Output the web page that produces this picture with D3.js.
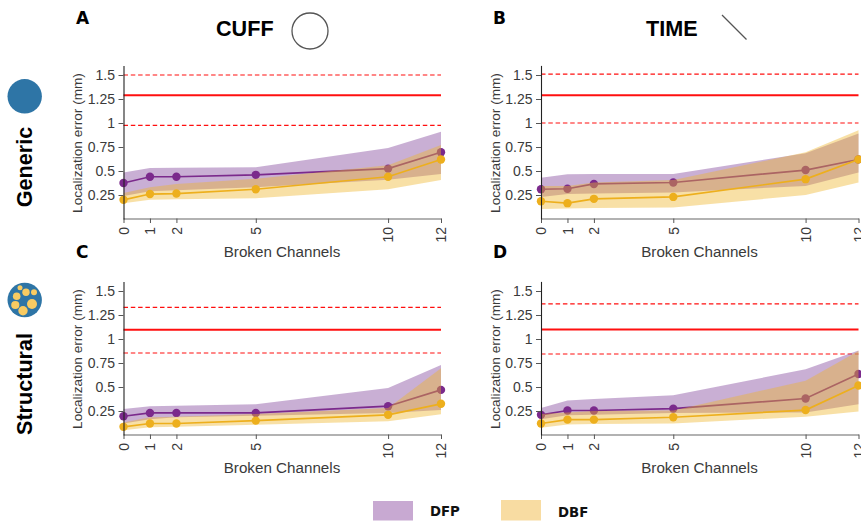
<!DOCTYPE html>
<html><head><meta charset="utf-8">
<script src="https://cdn.jsdelivr.net/npm/d3@7/dist/d3.min.js"></script>
<style>html,body{margin:0;padding:0;background:#fff;overflow:hidden}svg{display:block}</style>
</head><body><svg id="c" width="861" height="521"></svg>
<script>
const brokenChannels = [0, 1, 2, 5, 10, 12];
const yTickValues = [0.25, 0.5, 0.75, 1, 1.25, 1.5];
const yTickLabels = ["0.25", "0.5", "0.75", "1", "1.25", "1.5"];
const xLabel = "Broken Channels";
const yLabel = "Localization error (mm)";
const panelNames = ["A", "B", "C", "D"];

const dfpMeanA = [0.375, 0.44, 0.44, 0.46, 0.525, 0.695];
const dfpLowA  = [0.24, 0.29, 0.30, 0.33, 0.41, 0.47];
const dfpHighA = [0.485, 0.53, 0.535, 0.54, 0.74, 0.91];
const dbfMeanA = [0.20, 0.26, 0.265, 0.31, 0.44, 0.62];
const dbfLowA  = [0.165, 0.20, 0.205, 0.215, 0.31, 0.405];
const dbfHighA = [0.27, 0.33, 0.365, 0.42, 0.56, 0.77];
const refA = [0.975, 1.29, 1.50];

const dfpMeanB = [0.31, 0.315, 0.365, 0.38, 0.51, 0.62];
const dfpLowB  = [0.23, 0.26, 0.265, 0.275, 0.345, 0.485];
const dfpHighB = [0.43, 0.465, 0.47, 0.47, 0.685, 0.89];
const dbfMeanB = [0.185, 0.165, 0.21, 0.23, 0.415, 0.62];
const dbfLowB  = [0.105, 0.11, 0.115, 0.12, 0.25, 0.38];
const dbfHighB = [0.345, 0.345, 0.38, 0.405, 0.695, 0.925];
const refB = [1.0, 1.29, 1.51];

const dfpMeanC = [0.195, 0.23, 0.23, 0.23, 0.30, 0.47];
const dfpLowC  = [0.12, 0.165, 0.185, 0.20, 0.23, 0.26];
const dfpHighC = [0.27, 0.30, 0.305, 0.32, 0.49, 0.73];
const dbfMeanC = [0.085, 0.12, 0.12, 0.15, 0.21, 0.325];
const dbfLowC  = [0.05, 0.08, 0.087, 0.108, 0.143, 0.215];
const dbfHighC = [0.13, 0.185, 0.19, 0.22, 0.28, 0.695];
const refC = [0.854, 1.097, 1.33];

const dfpMeanD = [0.21, 0.255, 0.255, 0.275, 0.38, 0.635];
const dfpLowD  = [0.165, 0.205, 0.21, 0.23, 0.235, 0.32];
const dfpHighD = [0.28, 0.36, 0.375, 0.415, 0.685, 0.88];
const dbfMeanD = [0.12, 0.16, 0.16, 0.185, 0.26, 0.515];
const dbfLowD  = [0.075, 0.11, 0.115, 0.12, 0.19, 0.245];
const dbfHighD = [0.22, 0.235, 0.25, 0.255, 0.565, 0.875];
const refD = [0.844, 1.10, 1.365];

const dfpMean = [dfpMeanA, dfpMeanB, dfpMeanC, dfpMeanD];
const dfpLow = [dfpLowA, dfpLowB, dfpLowC, dfpLowD];
const dfpHigh = [dfpHighA, dfpHighB, dfpHighC, dfpHighD];
const dbfMean = [dbfMeanA, dbfMeanB, dbfMeanC, dbfMeanD];
const dbfLow = [dbfLowA, dbfLowB, dbfLowC, dbfLowD];
const dbfHigh = [dbfHighA, dbfHighB, dbfHighC, dbfHighD];
const refs = [refA, refB, refC, refD];

const sans = "'Liberation Sans', Arial, sans-serif";
const wide = "'DejaVu Sans', sans-serif";
const svg = d3.select("#c");
const lefts = [123.5, 541, 123.5, 541];
const bottoms = [219, 219, 435, 435];
const letterPos = [[76, 24], [493, 24], [76, 258], [493, 258]];
const PLOT_W = 317.5, PLOT_H = 153.6;

panelNames.forEach((name, i) => {
  const L = lefts[i], B = bottoms[i];
  const x = d3.scaleLinear().domain([0, 12]).range([L, L + PLOT_W]);
  const y = d3.scaleLinear().domain([0, 1.6]).range([B, B - PLOT_H]);
  const g = svg.append("g");

  const series = [
    {mean: dfpMean[i], low: dfpLow[i], high: dfpHigh[i], band: "#8e57a6", line: "#7b2a8c", op: 0.48},
    {mean: dbfMean[i], low: dbfLow[i], high: dbfHigh[i], band: "#efb42a", op: 0.42, line: "#edaf1d"}
  ];
  const area = d3.area().x(d => x(d.c)).y0(d => y(d.l)).y1(d => y(d.h));
  const line = d3.line().x(d => x(d.c)).y(d => y(d.m));

  refs[i].forEach((v, k) => {
    g.append("line").attr("x1", x(0)).attr("x2", x(12)).attr("y1", y(v)).attr("y2", y(v))
      .attr("stroke", "#ff0f0f").attr("stroke-width", k === 1 ? 2 : 1.2)
      .attr("stroke-dasharray", k === 1 ? null : "4.5,2.8");
  });

  series.forEach(s => {
    const rows = brokenChannels.map((c, j) => ({c, m: s.mean[j], l: s.low[j], h: s.high[j]}));
    g.append("path").datum(rows).attr("d", area).attr("fill", s.band).attr("fill-opacity", s.op);
    g.append("path").datum(rows).attr("d", line).attr("fill", "none").attr("stroke", s.line).attr("stroke-width", 1.7);
    g.selectAll(null).data(rows).join("circle").attr("cx", d => x(d.c)).attr("cy", d => y(d.m)).attr("r", 4.2).attr("fill", s.line);
  });

  const xAxis = d3.axisBottom(x).tickValues(brokenChannels).tickFormat(d3.format("d")).tickSize(4.5).tickSizeOuter(0);
  const gx = svg.append("g").attr("transform", `translate(0,${B - 0.5})`).call(xAxis);
  gx.select(".domain").attr("stroke", "#666").attr("stroke-width", 1.1);
  gx.selectAll(".tick line").attr("stroke", "#555");
  gx.selectAll("text").attr("font-family", sans).attr("font-size", 14).attr("fill", "#3a3a3a")
    .attr("text-anchor", "end").attr("transform", "rotate(-90)").attr("x", -8.5).attr("y", 0).attr("dy", "0.35em");

  const yAxis = d3.axisLeft(y).tickValues(yTickValues).tickFormat((d, k) => yTickLabels[k]).tickSize(5).tickSizeOuter(0);
  const gy = svg.append("g").attr("transform", `translate(${L},0)`).call(yAxis);
  gy.select(".domain").attr("stroke", "#222").attr("stroke-width", 1.1);
  gy.selectAll(".tick line").attr("stroke", "#555");
  gy.selectAll("text").attr("font-family", sans).attr("font-size", 14).attr("fill", "#3a3a3a").attr("x", -8.5);

  svg.append("text").attr("x", L + 158.5).attr("y", B + 38).attr("text-anchor", "middle")
    .attr("font-family", sans).attr("font-size", 15.2).attr("fill", "#3a3a3a").text(xLabel);
  svg.append("text").attr("transform", `translate(${L - 41.5},${B - 76}) rotate(-90)`).attr("text-anchor", "middle")
    .attr("font-family", sans).attr("font-size", 13.6).attr("fill", "#3a3a3a").text(yLabel);

  svg.append("text").attr("x", letterPos[i][0]).attr("y", letterPos[i][1])
    .attr("font-family", wide).attr("font-weight", "bold").attr("font-size", 17).attr("fill", "#000").text(name);
});

function bold(t, x, y, rot) {
  const s = svg.append("text").attr("font-family", sans).attr("font-weight", "bold").attr("font-size", 21.6).attr("fill", "#000").text(t);
  if (rot) s.attr("transform", `translate(${x},${y}) rotate(-90)`).attr("text-anchor", "middle");
  else s.attr("x", x).attr("y", y);
}
bold("CUFF", 216, 36);
bold("TIME", 646, 36);
bold("Generic", 32, 167, true);
bold("Structural", 32, 384, true);

svg.append("circle").attr("cx", 310).attr("cy", 31).attr("r", 18).attr("fill", "#fff").attr("stroke", "#555").attr("stroke-width", 1.3);
svg.append("line").attr("x1", 722).attr("y1", 15).attr("x2", 746.5).attr("y2", 39.5).attr("stroke", "#555").attr("stroke-width", 1.3);
svg.append("circle").attr("cx", 24.7).attr("cy", 96.3).attr("r", 17.2).attr("fill", "#2e75a6");
svg.append("circle").attr("cx", 24.7).attr("cy", 300).attr("r", 17.2).attr("fill", "#2e75a6");
[[20, 27.7, 2.5], [26, 32.3, 3.7], [34, 32.3, 3], [16.7, 36.3, 3.8], [32, 44, 5], [15.3, 45, 4.1], [23, 50.7, 4.7]].forEach(c => {
  svg.append("circle").attr("cx", c[0]).attr("cy", 260 + c[1]).attr("r", c[2]).attr("fill", "#f8cb62");
});

svg.append("rect").attr("x", 373).attr("y", 501).attr("width", 40).attr("height", 19.5).attr("fill", "#c8a9d2");
svg.append("rect").attr("x", 501).attr("y", 500).attr("width", 40).attr("height", 20.5).attr("fill", "#f8dca2");
svg.append("text").attr("x", 430).attr("y", 515.5).attr("font-family", wide).attr("font-weight", "bold").attr("font-size", 13.3).attr("fill", "#111").text("DFP");
svg.append("text").attr("x", 558).attr("y", 517).attr("font-family", wide).attr("font-weight", "bold").attr("font-size", 13.3).attr("fill", "#111").text("DBF");
</script></body></html>
